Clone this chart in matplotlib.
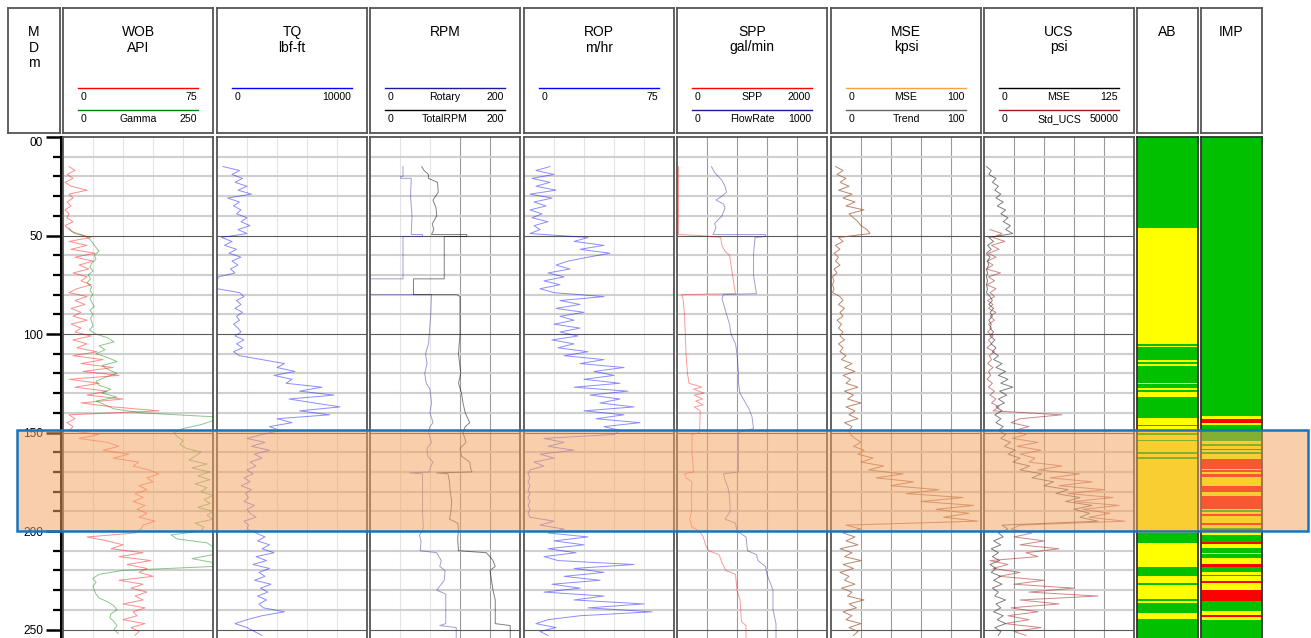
import numpy as np
import matplotlib.pyplot as plt
from matplotlib.patches import Rectangle
from matplotlib.colors import to_rgba
from matplotlib.transforms import blended_transform_factory

plt.rcParams['font.family'] = ['Liberation Sans', 'DejaVu Sans']

# ---------------- data (depth in m) ----------------
depth_ticks = [0, 50, 100, 150, 200, 250]
depth_labels = ['00', '50', '100', '150', '200', '250']
depth_minor = [10, 20, 30, 40, 60, 70, 80, 90, 110, 120, 130, 140,
               160, 170, 180, 190, 210, 220, 230, 240]

# curves sampled every 2 m, first sample at *_start
wob_start = 15
wob = [3, 6, 2, 5, 1, 4, 12, 3, 5, 2,
       4, 1, 3, 2, 5, 1, 3, 6, 14, 3,
       12, 4, 16, 6, 15, 8, 13, 5, 12, 9,
       14, 7, 3, 12, 6, 11, 4, 9, 5, 12,
       4, 9, 6, 14, 5, 12, 7, 17, 5, 20,
       9, 25, 10, 28, 3, 18, 6, 22, 12, 30,
       9, 25, 48, 3, 6, 2, 5, 3, 18, 8,
       22, 28, 20, 33, 25, 38, 35, 43, 48, 42,
       45, 38, 42, 36, 40, 35, 41, 37, 42, 38,
       46, 40, 39, 36, 12, 22, 30, 24, 40, 28,
       44, 32, 42, 38, 45, 28, 40, 34, 42, 36,
       40, 30, 41, 35, 37, 30, 41, 34, 38, 36]

gamma_start = 46
gamma = [10, 15, 35, 45, 50, 55, 60, 52, 55, 48,
         45, 50, 42, 46, 40, 48, 45, 50, 45, 48,
         52, 45, 50, 46, 48, 50, 44, 55, 75, 85,
         60, 70, 55, 75, 90, 65, 75, 90, 70, 55,
         60, 80, 65, 90, 55, 70, 85, 130, 250, 250,
         230, 200, 185, 190, 200, 195, 205, 230, 220, 210,
         240, 215, 245, 225, 245, 220, 240, 230, 250, 235,
         245, 225, 250, 240, 250, 220, 235, 230, 180, 190,
         240, 250, 250, 250, 215, 250, 250, 100, 60, 50,
         55, 50, 52, 55, 60, 75, 85, 90, 80, 78,
         85, 90, 85, 92]

tq_start = 15
tq = [400, 1500, 1000, 1700, 1200, 2000, 1400, 2300, 700, 1500,
      1100, 1600, 1300, 2000, 1600, 2200, 1400, 2000, 300, 1000,
      500, 1300, 800, 1600, 1000, 1400, 900, 1200, 100, 0,
      0, 0, 1500, 1800, 1300, 1600, 1200, 1700, 1300, 1500,
      1100, 1400, 1600, 1200, 1800, 1300, 1700, 1100, 1500, 3000,
      4500, 4000, 5200, 3800, 5000, 4600, 7000, 5500, 7800, 4800,
      6500, 8200, 5500, 7500, 4000, 5000, 3500, 4200, 3000, 2000,
      3200, 2300, 3500, 2500, 3000, 2200, 2600, 2000, 2400, 1800,
      2200, 1600, 2300, 1900, 2100, 1800, 2500, 2000, 2200, 2600,
      1800, 2100, 2000, 2600, 3200, 2700, 3500, 3000, 3800, 2600,
      3300, 2400, 3500, 2800, 3200, 2500, 3600, 2900, 3400, 2700,
      3300, 2800, 3100, 4500, 3000, 2000, 1200, 2000, 2500, 3000]

rop_start = 15
rop = [13, 6, 15, 4, 13, 6, 16, 3, 14, 5,
       11, 3, 9, 4, 12, 5, 8, 3, 32, 25,
       40, 28, 43, 32, 22, 16, 23, 12, 20, 10,
       18, 8, 15, 40, 18, 28, 16, 30, 18, 25,
       15, 28, 18, 27, 14, 25, 17, 32, 20, 40,
       28, 50, 35, 45, 30, 48, 25, 52, 33, 48,
       38, 55, 30, 50, 36, 58, 40, 48, 45, 10,
       20, 12, 25, 8, 15, 5, 10, 3, 2, 3,
       2, 3, 2, 3, 2, 3, 2, 3, 2, 3,
       15, 8, 20, 12, 32, 15, 30, 12, 26, 10,
       17, 55, 25, 40, 20, 38, 14, 28, 10, 40,
       25, 60, 32, 64, 28, 12, 6, 16, 8, 12]

mse_start = 15
mse = [3, 8, 4, 10, 6, 12, 5, 14, 8, 16,
       10, 22, 12, 15, 18, 20, 24, 26, 5, 8,
       3, 6, 2, 5, 3, 6, 2, 4, 1, 2,
       1, 2, 1, 6, 8, 5, 9, 6, 8, 4,
       7, 5, 8, 6, 9, 5, 8, 6, 10, 7,
       14, 9, 16, 8, 13, 10, 18, 9, 15, 11,
       20, 10, 16, 12, 18, 9, 14, 12, 13, 16,
       20, 15, 22, 18, 28, 20, 35, 25, 48, 30,
       55, 40, 72, 50, 88, 60, 95, 70, 92, 75,
       98, 10, 20, 8, 16, 10, 18, 6, 14, 9,
       20, 8, 15, 6, 12, 9, 16, 7, 14, 11,
       22, 12, 17, 8, 14, 10, 20, 12, 18, 15]

ucs_mse_start = 15
ucs_mse = [2, 6, 4, 10, 7, 12, 9, 14, 10, 16,
           11, 18, 14, 20, 16, 22, 18, 24, 4, 8,
           3, 6, 2, 5, 3, 4, 2, 3, 2, 3,
           2, 3, 2, 5, 7, 4, 8, 5, 7, 4,
           6, 5, 8, 5, 9, 6, 10, 7, 12, 8,
           15, 10, 18, 12, 20, 14, 24, 13, 19, 12,
           17, 10, 15, 9, 14, 10, 16, 12, 18, 14,
           22, 17, 26, 20, 30, 24, 38, 30, 48, 40,
           58, 50, 70, 60, 80, 68, 90, 75, 88, 80,
           95, 15, 20, 12, 16, 8, 14, 6, 12, 7,
           13, 5, 10, 6, 14, 8, 15, 7, 12, 9,
           18, 10, 14, 8, 16, 11, 18, 9, 14, 12]

std_ucs_start = 47
std_ucs = [2000, 6000, 3000, 7000, 2500, 5000, 1500, 4000, 1000, 3000,
           800, 5500, 1500, 3500, 1000, 4000, 2000, 3500, 1200, 3000,
           1500, 4000, 2000, 3500, 1500, 2500, 1200, 3000, 1500, 2500,
           1000, 3500, 1800, 2500, 1200, 3000, 1500, 2200, 1000, 2800,
           1500, 3500, 2000, 4000, 2500, 5000, 3000, 26000, 12000, 9000,
           15000, 10000, 14000, 9500, 18000, 11000, 19000, 12000, 17000, 15000,
           26000, 18000, 32000, 22000, 36000, 25000, 40000, 28000, 43000, 30000,
           45000, 33000, 42000, 35000, 47000, 12000, 9000, 16000, 10000, 20000,
           12000, 25000, 14000, 18000, 2000, 8000, 3000, 12000, 5000, 20000,
           10000, 30000, 15000, 38000, 12000, 25000, 9000, 18000, 8000, 15000,
           7000, 19000, 10000, 14000]

# step-like curves: explicit depth / value pairs
rotary_depth = [15, 20, 20, 21, 21, 30, 40, 49.5, 49.5, 50.5, 50.5, 72, 72, 80, 80, 90,
                100, 105, 110, 115, 120, 125, 128, 135, 140, 145, 147, 150, 155, 158,
                162, 165, 168, 170, 170.5, 171, 180, 190, 198, 200, 202, 205, 210, 211,
                215, 218, 220, 225, 230, 232, 240, 247, 248, 249, 254]
rotary = [44, 44, 41, 41, 55, 54, 56, 55, 70, 70, 44, 44, 0, 0, 82, 81,
          79, 78, 74, 76, 73, 75, 80, 82, 80, 84, 80, 78, 82, 76,
          77, 84, 80, 80, 53, 70, 70, 70, 71, 70, 66, 68, 67, 89,
          95, 93, 100, 99, 89, 101, 101, 101, 93, 115, 115]

total_rpm_depth = [15, 17, 19, 21, 23, 28, 32, 36, 40, 44, 47, 49.5, 49.5, 50.5, 50.5, 72,
                   72, 80, 80, 81, 100, 110, 120, 125, 130, 135, 140, 145, 147, 150,
                   155, 158, 162, 165, 168, 170, 170.5, 171, 175, 180, 185, 190, 194, 196,
                   200, 203, 205, 210, 211, 213, 215, 218, 220, 225, 230, 235, 240, 247,
                   248, 254]
total_rpm = [69, 72, 78, 78, 90, 91, 84, 88, 89, 83, 85, 82, 129, 129, 99, 99,
             58, 58, 116, 120, 120, 118, 121, 118, 122, 124, 127, 133, 127, 124,
             128, 120, 122, 133, 134, 136, 89, 104, 106, 107, 109, 108, 106, 117,
             118, 117, 117, 118, 155, 160, 164, 167, 160, 162, 164, 167, 167, 167,
             187, 187]

spp_depth = [15, 49.5, 50, 51, 55, 58, 60, 65, 70, 75, 79.5, 80, 82, 90, 100, 110,
             120, 125, 127, 128, 130, 131, 133, 134, 136, 137, 139, 150, 151, 160,
             165, 170, 171, 173, 175, 180, 190, 194, 198, 200, 203, 207, 210, 212,
             216, 220, 222, 230, 235, 240, 246, 248, 254]
spp = [20, 20, 300, 580, 600, 640, 700, 720, 740, 760, 780, 60, 80, 100, 110, 120,
       140, 160, 330, 220, 360, 230, 340, 250, 350, 230, 310, 300, 200, 200,
       210, 220, 100, 120, 200, 190, 195, 170, 200, 300, 350, 380, 420, 560,
       600, 650, 780, 800, 840, 850, 860, 920, 920]

flow_depth = [15, 18, 22, 25, 28, 30, 32, 34, 36, 40, 44, 46, 49.5, 49.5, 50.5, 51,
              60, 70, 75, 79.5, 80, 82, 90, 95, 100, 105, 110, 120, 125, 130,
              138, 142, 148, 150, 160, 170, 171, 174, 178, 182, 190, 194, 196, 200,
              203, 210, 212, 215, 218, 222, 230, 240, 247, 254]
flow = [230, 250, 300, 320, 330, 300, 260, 310, 320, 300, 250, 260, 240, 590, 590, 520,
        510, 510, 520, 530, 310, 300, 330, 350, 360, 390, 400, 410, 410, 420,
        480, 500, 510, 410, 410, 410, 310, 320, 340, 350, 355, 320, 390, 400,
        460, 470, 530, 540, 590, 600, 640, 640, 660, 660]

# zone tracks: interval tops and codes (G green, Y yellow, R red)
ab_top = [0, 46, 105.3, 106.2, 106.7, 110.4, 110.9, 113.4, 114.1, 115.3, 116.3,
          124.9, 125.6, 127.3, 128.2, 129.5, 131.9, 142.7, 146.1, 146.8, 150.2,
          151.4, 153.6, 154.1, 160, 161, 162.5, 163.5, 200.9, 206.3, 218.5,
          222.9, 226.3, 227.5, 234.7, 235.6, 236.5, 241.5, 244.9]
ab_code = "GYGYGYGYGYGYGYGYGYGYGYGYGYGYGYGYGYGYGYG"

imp_top = [0, 141.4, 142.9, 145.4, 146.4, 154.4, 155.6, 156.9, 158.3, 159.1,
           160, 160.8, 163.3, 168.4, 169.1, 170.1, 171.3, 172.5, 176.9, 180.3,
           182, 188.7, 189.4, 190.1, 191.5, 192.5, 195.9, 196.7, 198.4, 199.2,
           200.6, 201.8, 205.6, 206.5, 208.7, 211.1, 211.9, 213.6, 216.5, 218.5,
           220.9, 222.1, 222.9, 225.4, 226.6, 229.7, 235.6, 240.7, 242.4, 243.6,
           245.3]
imp_code = "GYRYGYGYRY" "GYRYRYRYRY" "RYGYRYRYGR" "YGRYGYGYRG" "YGYRYRGYRYG"

highlight_top, highlight_bottom = 148.6, 199.8

# ---------------- layout ----------------
W, H = 1311, 638
DATA_TOP = 137
DEPTH_BOTTOM = 254.3
FRAME = '#555555'
LIGHT, DARK = '#e3e3e3', '#9a9a9a'
zone_colors = {'G': '#00c000', 'Y': '#ffff00', 'R': '#ff0000'}

fig = plt.figure(figsize=(W / 100, H / 100), dpi=100)


def px_axes(x0, y0, x1, y1):
    return fig.add_axes([x0 / W, 1 - y1 / H, (x1 - x0) / W, (y1 - y0) / H])


def header(x0, x1, lines, scales=()):
    ax = px_axes(x0, 8, x1, 133)
    w = x1 - x0
    ax.set_xlim(0, w)
    ax.set_ylim(125, 0)
    ax.set_xticks([])
    ax.set_yticks([])
    for s in ax.spines.values():
        s.set_color(FRAME)
        s.set_linewidth(1.3)
    for i, t in enumerate(lines):
        ax.text(w / 2, 24 + 15.5 * i, t, ha='center', va='center', fontsize=10)
    for i, (color, lo, mid, hi) in enumerate(scales):
        y = 79.5 + 22 * i
        ax.plot([15, w - 15], [y, y], color=color, lw=1)
        ax.text(18, y + 9.5, lo, ha='left', va='center', fontsize=7.6)
        ax.text(w / 2, y + 9.5, mid, ha='center', va='center', fontsize=7.6)
        ax.text(w - 16, y + 9.5, hi, ha='right', va='center', fontsize=7.6)
    return ax


def track(x0, x1, xmax, vgrid):
    ax = px_axes(x0, DATA_TOP, x1, H)
    ax.set_ylim(DEPTH_BOTTOM, 0)
    ax.set_xlim(0, xmax)
    ax.set_xticks([])
    ax.set_yticks([])
    for k, s in ax.spines.items():
        s.set_color(FRAME)
        s.set_linewidth(1.3)
    ax.spines['bottom'].set_visible(False)
    for i, style in enumerate(vgrid):
        ax.axvline(xmax * (i + 1) / 5, color=LIGHT if style == 'l' else DARK, lw=0.8, zorder=0.4)
    for d in range(10, 260, 10):
        if d % 50:
            ax.axhline(d, color='#cfcfcf', lw=1.5, zorder=0.5)
        else:
            ax.axhline(d, color='#5a5a5a', lw=0.8, zorder=0.6)
    return ax


def second_scale(ax, xmax):
    ax2 = ax.twiny()
    ax2.set_xlim(0, xmax)
    ax2.set_axis_off()
    return ax2


def sampled(start, values):
    return start + 2 * np.arange(len(values))


def curve(ax, depth, values, color, alpha=0.5, lw=0.7):
    ax.plot(values, depth, color=color, alpha=alpha, lw=lw)


def zone_track(x0, x1, tops, codes, title):
    header(x0, x1, [title])
    ax = px_axes(x0, DATA_TOP, x1, H)
    ax.set_ylim(DEPTH_BOTTOM, 0)
    ax.set_xlim(0, 1)
    ax.set_xticks([])
    ax.set_yticks([])
    bottoms = np.array(list(tops[1:]) + [DEPTH_BOTTOM])
    ax.barh(tops, 1, height=bottoms - np.array(tops), left=0, align='edge',
            color=[zone_colors[c] for c in codes], linewidth=0)
    for s in ax.spines.values():
        s.set_color('#333333')
        s.set_linewidth(1.3)
    ax.spines['bottom'].set_visible(False)


# depth header and axis
hd = header(8, 60, ['M', 'D', 'm'])
axd = px_axes(20, DATA_TOP, 61, H)
axd.set_ylim(DEPTH_BOTTOM, 0)
axd.set_xlim(0, 1)
axd.patch.set_visible(False)
for k in ('top', 'right', 'bottom'):
    axd.spines[k].set_visible(False)
axd.spines['left'].set_position(('axes', 1.0))
axd.spines['left'].set_linewidth(2.2)
axd.set_xticks([])
axd.set_yticks(depth_ticks)
axd.set_yticklabels(depth_labels)
axd.set_yticks(depth_minor, minor=True)
axd.tick_params(axis='y', which='major', length=11, width=1.8, pad=2, labelsize=8.6)
axd.tick_params(axis='y', which='minor', length=6, width=1.6)
axd.yaxis.get_major_ticks()[0].label1.set_va('top')

# WOB / Gamma
header(63, 213, ['WOB', 'API'], [('red', '0', '', '75'), ('green', '0', 'Gamma', '250')])
ax = track(63, 213, 75, 'llll')
curve(ax, sampled(wob_start, wob), wob, 'red', 0.45)
curve(second_scale(ax, 250), sampled(gamma_start, gamma), gamma, 'green', 0.45)

# TQ
header(217, 367, ['TQ', 'lbf-ft'], [('blue', '0', '', '10000')])
ax = track(217, 367, 10000, 'llll')
curve(ax, sampled(tq_start, tq), tq, 'blue', 0.45)

# RPM
header(370, 520, ['RPM'], [('#1a1a9a', '0', 'Rotary', '200'), ('black', '0', 'TotalRPM', '200')])
ax = track(370, 520, 200, 'lldd')
curve(ax, rotary_depth, rotary, '#2a2aa0', 0.45)
curve(ax, total_rpm_depth, total_rpm, 'black', 0.5)

# ROP
header(524, 674, ['ROP', 'm/hr'], [('blue', '0', '', '75')])
ax = track(524, 674, 75, 'llll')
curve(ax, sampled(rop_start, rop), rop, 'blue', 0.45)

# SPP / FlowRate
header(677, 827, ['SPP', 'gal/min'], [('red', '0', 'SPP', '2000'), ('#1a1a9a', '0', 'FlowRate', '1000')])
ax = track(677, 827, 2000, 'dddd')
curve(ax, spp_depth, spp, 'red', 0.4)
curve(second_scale(ax, 1000), flow_depth, flow, '#2a2aa0', 0.45)

# MSE
header(831, 981, ['MSE', 'kpsi'], [('#f5a04a', '0', 'MSE', '100'), ('#666666', '0', 'Trend', '100')])
ax = track(831, 981, 100, 'dddd')
curve(ax, sampled(mse_start, mse), mse, '#a0522d', 0.7)

# UCS
header(984, 1134, ['UCS', 'psi'], [('black', '0', 'MSE', '125'), ('#a01818', '0', 'Std_UCS', '50000')])
ax = track(984, 1134, 125, 'dddd')
curve(ax, sampled(ucs_mse_start, ucs_mse), ucs_mse, 'black', 0.5)
curve(second_scale(ax, 50000), sampled(std_ucs_start, std_ucs), std_ucs, '#a01010', 0.5)

# AB / IMP
zone_track(1137, 1198, ab_top, ab_code, 'AB')
zone_track(1201, 1262, imp_top, imp_code, 'IMP')

# highlighted interval
trans = blended_transform_factory(fig.transFigure, axd.transData)
fig.add_artist(Rectangle((17 / W, highlight_top), (1308 - 17) / W, highlight_bottom - highlight_top,
                         transform=trans, facecolor=to_rgba('#f4a460', 0.53),
                         edgecolor='#1b74ba', lw=1.8, clip_on=False))

fig.savefig('out.png', dpi=100)
